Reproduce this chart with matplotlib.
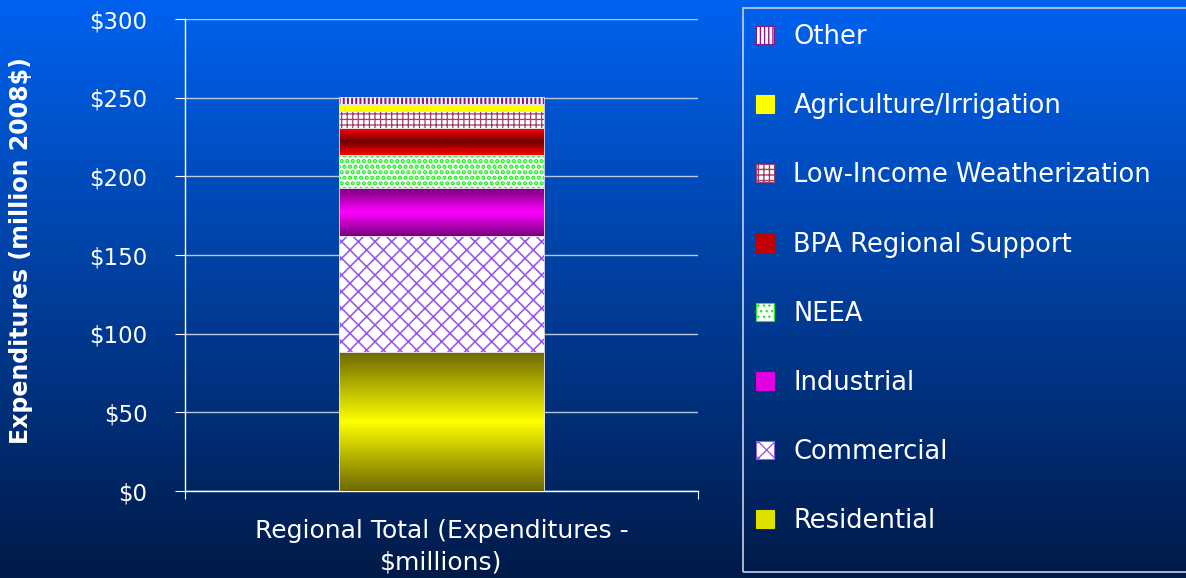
import matplotlib
matplotlib.use("Agg")
import matplotlib.pyplot as plt
import numpy as np
from matplotlib.patches import Rectangle

# data, bottom segment first
categories = ["Residential", "Commercial", "Industrial", "NEEA",
              "BPA Regional Support", "Low-Income Weatherization",
              "Agriculture/Irrigation", "Other"]
values = [88.3, 73.8, 30.5, 21.0, 17.0, 11.0, 4.3, 4.8]
xlabel = "Regional Total (Expenditures -\n$millions)"
yticks = [0, 50, 100, 150, 200, 250, 300]

# (facecolor, hatch color, hatch, hatch width, gradient)
styles = [
    ("#e0e000", "#e0e000", None, 1, ("#6e6a00", "#ffff00")),
    ("white", "#9a5ae8", "xx", 1.2, None),
    ("#e000e0", "#e000e0", None, 1, ("#7a007a", "#ff00ff")),
    ("white", "#22ee22", "...", 2.2, None),
    ("#c00000", "#c00000", None, 1, ("#ff0000", "#700000")),
    ("white", "#a0406a", "+++", 0.9, None),
    ("#ffff00", "#ffff00", None, 1, None),
    ("white", "#8a1a8a", "||||", 1.5, None),
]

plt.rcParams["font.family"] = "DejaVu Sans"

fig = plt.figure(figsize=(11.86, 5.78), dpi=100)

# blue gradient background
bg = fig.add_axes([0, 0, 1, 1], zorder=-10)
grad = np.linspace(0, 1, 256).reshape(-1, 1)
top = np.array([0x00, 0x62, 0xf0]) / 255
bot = np.array([0x00, 0x1a, 0x48]) / 255
img = top + (bot - top) * grad[:, :, None]
bg.imshow(img, aspect="auto", extent=[0, 1, 0, 1])
bg.set_axis_off()

ax = fig.add_axes([0.156, 0.1505, 0.4325, 0.8166])
ax.set_facecolor("none")

bottom = 0
bars = []
for cat, v, (fc, hc, hatch, hw, g) in zip(categories, values, styles):
    with plt.rc_context({"hatch.linewidth": hw}):
        b = ax.bar(0, v, width=0.4, bottom=bottom, color=fc, edgecolor=hc,
                   hatch=hatch, linewidth=0, label=cat, zorder=3)
    bars.append(b[0])
    if g is not None:
        p = b[0]
        c1 = np.array(matplotlib.colors.to_rgb(g[0]))
        c2 = np.array(matplotlib.colors.to_rgb(g[1]))
        t = np.abs(np.linspace(-1, 1, 64)).reshape(-1, 1, 1)
        gimg = c2 + (c1 - c2) * t
        ax.imshow(gimg, aspect="auto", zorder=4,
                  extent=[p.get_x(), p.get_x() + p.get_width(),
                          p.get_y(), p.get_y() + p.get_height()])
    # thin light outline
    ax.add_patch(Rectangle((b[0].get_x(), bottom), b[0].get_width(), v,
                           fill=False, edgecolor="#e8e0f0", linewidth=0.6,
                           zorder=5))
    bottom += v

ax.set_xlim(-0.5, 0.5)
ax.set_ylim(0, 300)
ax.set_yticks(yticks)
ax.set_yticklabels([f"${t}" for t in yticks])
ax.set_xticks([-0.5, 0.5], ["", ""], minor=False)
ax.set_xticks([0], minor=True)
ax.set_xticklabels([xlabel], minor=True)
ax.tick_params(axis="x", which="minor", length=0, pad=20, labelsize=18,
               colors="white")
ax.tick_params(axis="x", which="major", length=6, direction="out",
               color="white")
ax.tick_params(axis="y", length=7, direction="out", color="white",
               labelcolor="white", labelsize=16.5, pad=20)
for lbl in ax.get_xticklabels(minor=True):
    lbl.set_linespacing(1.4)

ax.grid(axis="y", color="#b8c8e0", linewidth=1.0, zorder=0)
for s in ["top", "right"]:
    ax.spines[s].set_visible(False)
for s in ["left", "bottom"]:
    ax.spines[s].set_color("white")
    ax.spines[s].set_linewidth(1.0)

ax.set_ylabel("Expenditures (million 2008$)", color="white", fontsize=17,
              fontweight="bold")
ax.yaxis.set_label_coords(-0.296, 0.51)

# legend with a separate frame that runs off the right edge
fig.patches.append(Rectangle((743 / 1186, 6 / 578), 0.5, 564 / 578,
                             transform=fig.transFigure, fill=False,
                             edgecolor="#c8d0e0", linewidth=1.2))
leg = fig.legend(bars[::-1], categories[::-1], loc="upper left",
                 bbox_to_anchor=(733 / 1186, 1 - 1 / 578), frameon=False,
                 fontsize=18.5, labelcolor="white", handlelength=0.7,
                 handleheight=0.7, handletextpad=0.75, labelspacing=1.68)
for h in leg.legend_handles:
    h.set_linewidth(0.8)

fig.savefig("out.png", dpi=100)
